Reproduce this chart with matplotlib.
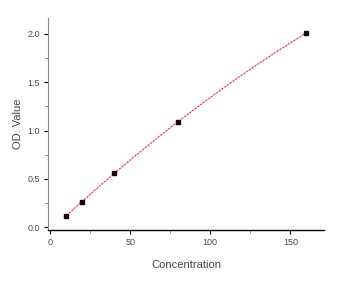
import numpy as np
import matplotlib.pyplot as plt
from matplotlib.ticker import MultipleLocator

plt.rcParams['font.family'] = ['Liberation Sans', 'DejaVu Sans']

# standard curve points
conc = [10, 20, 40, 80, 160]
od = [0.12, 0.26, 0.557, 1.093, 2.01]

# smooth fitted curve through the standards
coef = np.polyfit(conc, od, 2)
xs = np.linspace(9, 160, 200)
ys = np.polyval(coef, xs)

fig = plt.figure(figsize=(3.57, 2.90), dpi=100)
ax = fig.add_axes([0.1345, 0.2069, 0.7731, 0.731])

ax.plot(xs, ys, color="#f5a3bd", lw=0.8, zorder=2)
ax.plot(xs, ys, color="#e0103f", lw=0.8, ls=(0, (1, 2)), zorder=3)
ax.plot(conc, od, "s", color="#1a0505", ms=3.3, zorder=4)

ax.set_xlim(-1.3, 171)
ax.set_ylim(-0.03, 2.165)

ax.xaxis.set_major_locator(MultipleLocator(50))
ax.xaxis.set_minor_locator(MultipleLocator(25))
ax.yaxis.set_major_locator(MultipleLocator(0.5))
ax.yaxis.set_minor_locator(MultipleLocator(0.25))
ax.yaxis.set_major_formatter(plt.FormatStrFormatter("%.1f"))

for s in ["top", "right"]:
    ax.spines[s].set_visible(False)
ax.spines["left"].set_color("#8a8a8a")
ax.spines["bottom"].set_color("black")
ax.spines["left"].set_linewidth(0.8)
ax.spines["bottom"].set_linewidth(1.0)

ax.tick_params(which="major", length=3, width=0.8, color="black",
               labelsize=6.5, labelcolor="#4a4a4a", pad=3)
ax.tick_params(which="minor", length=2, width=0.6, color="#777777")

ax.set_xlabel("Concentration", fontsize=8, color="#444444", labelpad=9)
ax.set_ylabel("OD. Value", fontsize=8, color="#444444", labelpad=3)

fig.savefig("out.png", dpi=100)
